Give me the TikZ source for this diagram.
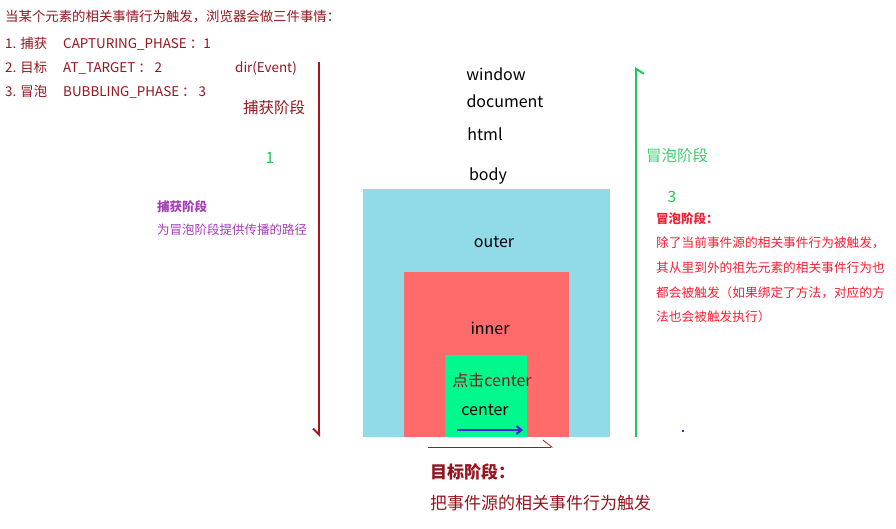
\documentclass[tikz,border=0pt]{standalone}
\usepackage{fontspec}
\setmainfont{Noto Sans CJK SC}
\usetikzlibrary{arrows.meta}

\definecolor{darkred}{RGB}{150,20,30}
\definecolor{capred}{RGB}{165,25,30}
\definecolor{bubgreen}{RGB}{30,200,85}
\definecolor{lightgreen}{RGB}{60,205,110}
\definecolor{purpletext}{RGB}{165,60,185}
\definecolor{hotred}{RGB}{250,30,50}
\definecolor{outerblue}{RGB}{145,218,232}
\definecolor{innerred}{RGB}{255,106,106}
\definecolor{centergreen}{RGB}{0,248,140}
\definecolor{arrowblue}{RGB}{60,40,215}

\begin{document}
\begin{tikzpicture}[x=1pt, y=-1pt]
 % --- 各パーツのスタイル ---
 \tikzset{
    note/.style={
        anchor=west,
        inner sep=0pt,
        text=darkred,
        font=\fontsize{13.4}{15}\selectfont
    },
    tag/.style={
        inner sep=0pt,
        text=black,
        font=\fontsize{16}{18}\selectfont
    },
    phase/.style={
        anchor=west,
        inner sep=0pt,
        font=\fontsize{15.5}{18}\selectfont
    },
    small/.style={
        anchor=west,
        inner sep=0pt,
        font=\fontsize{12.7}{14}\selectfont
    }
 }
 \useasboundingbox (0,0) rectangle (896,529);

 % --- 左上の説明 ---
 \node[note] (intro) at (5,17) {当某个元素的相关事情行为触发，浏览器会做三件事情：};
 \node[note] (one) at (5,44) {1. 捕获\hspace{1.2em}CAPTURING\_PHASE ：1};
 \node[note] (two) at (5,68) {2. 目标\hspace{1.2em}AT\_TARGET ： 2};
 \node[note] (three) at (5,92) {3. 冒泡\hspace{1.2em}BUBBLING\_PHASE ： 3};
 \node[note] (dir) at (235,68) {dir(Event)};

 % --- 入れ子の箱 ---
 \fill[outerblue] (363,189) rectangle (610,437);
 \fill[innerred] (404,272) rectangle (569,437);
 \fill[centergreen] (445,355) rectangle (527,437);

 % --- 要素の名前 ---
 \node[tag] (window) at (496,74) {window};
 \node[tag] (document) at (505,101) {document};
 \node[tag] (html) at (485,134) {html};
 \node[tag] (body) at (488,176) {body};
 \node[tag] (outer) at (494,242) {outer};
 \node[tag] (inner) at (490,328) {inner};
 \node[tag, text=darkred] (click) at (492,380) {点击center};
 \node[tag] (center) at (485,410) {center};

 % --- 捕获阶段 (左の矢印) ---
 \coordinate (capTop) at (319,62);
 \coordinate (capBot) at (319,437);
 \draw[capred, line width=2pt, -{Straight Barb[right, length=6pt, width=12pt]}] (capTop) -- (capBot);
 \node[phase, text=darkred] (capture) at (243,108) {捕获阶段};
 \node[phase, text=bubgreen, anchor=center] (capnum) at (270,158) {1};
 \node[small, text=purpletext, font=\bfseries\fontsize{12.5}{14}\selectfont] (captitle) at (157,207) {捕获阶段};
 \node[small, text=purpletext, font=\fontsize{12.5}{14}\selectfont] (capdesc) at (157,230) {为冒泡阶段提供传播的路径};

 % --- 目标阶段 (下) ---
 \coordinate (tgtStart) at (428,447);
 \coordinate (tgtEnd) at (553,447);
 \draw[capred, line width=0.8pt, -{Straight Barb[left, length=9pt, width=14pt]}] (tgtStart) -- (tgtEnd);
 \coordinate (blueStart) at (457,430);
 \coordinate (blueEnd) at (523,430);
 \draw[arrowblue, line width=2pt, -{Straight Barb[length=5pt, width=8pt]}] (blueStart) -- (blueEnd);
 \node[phase, text=darkred, font=\bfseries\fontsize{17}{20}\selectfont] (tgttitle) at (430,472) {目标阶段：};
 \node[phase, text=darkred, font=\fontsize{17}{20}\selectfont] (tgtdesc) at (430,503) {把事件源的相关事件行为触发};

 % --- 冒泡阶段 (右の矢印) ---
 \coordinate (bubBot) at (636,437);
 \coordinate (bubTop) at (636,67);
 \draw[bubgreen, line width=2pt, -{Straight Barb[right, length=5pt, width=16pt]}] (bubBot) -- (bubTop);
 \node[phase, text=lightgreen] (bubble) at (646,156) {冒泡阶段};
 \node[phase, text=bubgreen, anchor=center] (bubnum) at (672,197) {3};
 \node[small, text=hotred, font=\bfseries\fontsize{12.5}{14}\selectfont] (bubtitle) at (656,219) {冒泡阶段：};
 \node[small, text=hotred] (bubline1) at (656,243) {除了当前事件源的相关事件行为被触发，};
 \node[small, text=hotred] (bubline2) at (656,268) {其从里到外的祖先元素的相关事件行为也};
 \node[small, text=hotred] (bubline3) at (656,293) {都会被触发（如果绑定了方法，对应的方};
 \node[small, text=hotred] (bubline4) at (656,317) {法也会被触发执行）};

 % 小さな点
 \fill[arrowblue] (682,430) rectangle (684,432);
\end{tikzpicture}
\end{document}
